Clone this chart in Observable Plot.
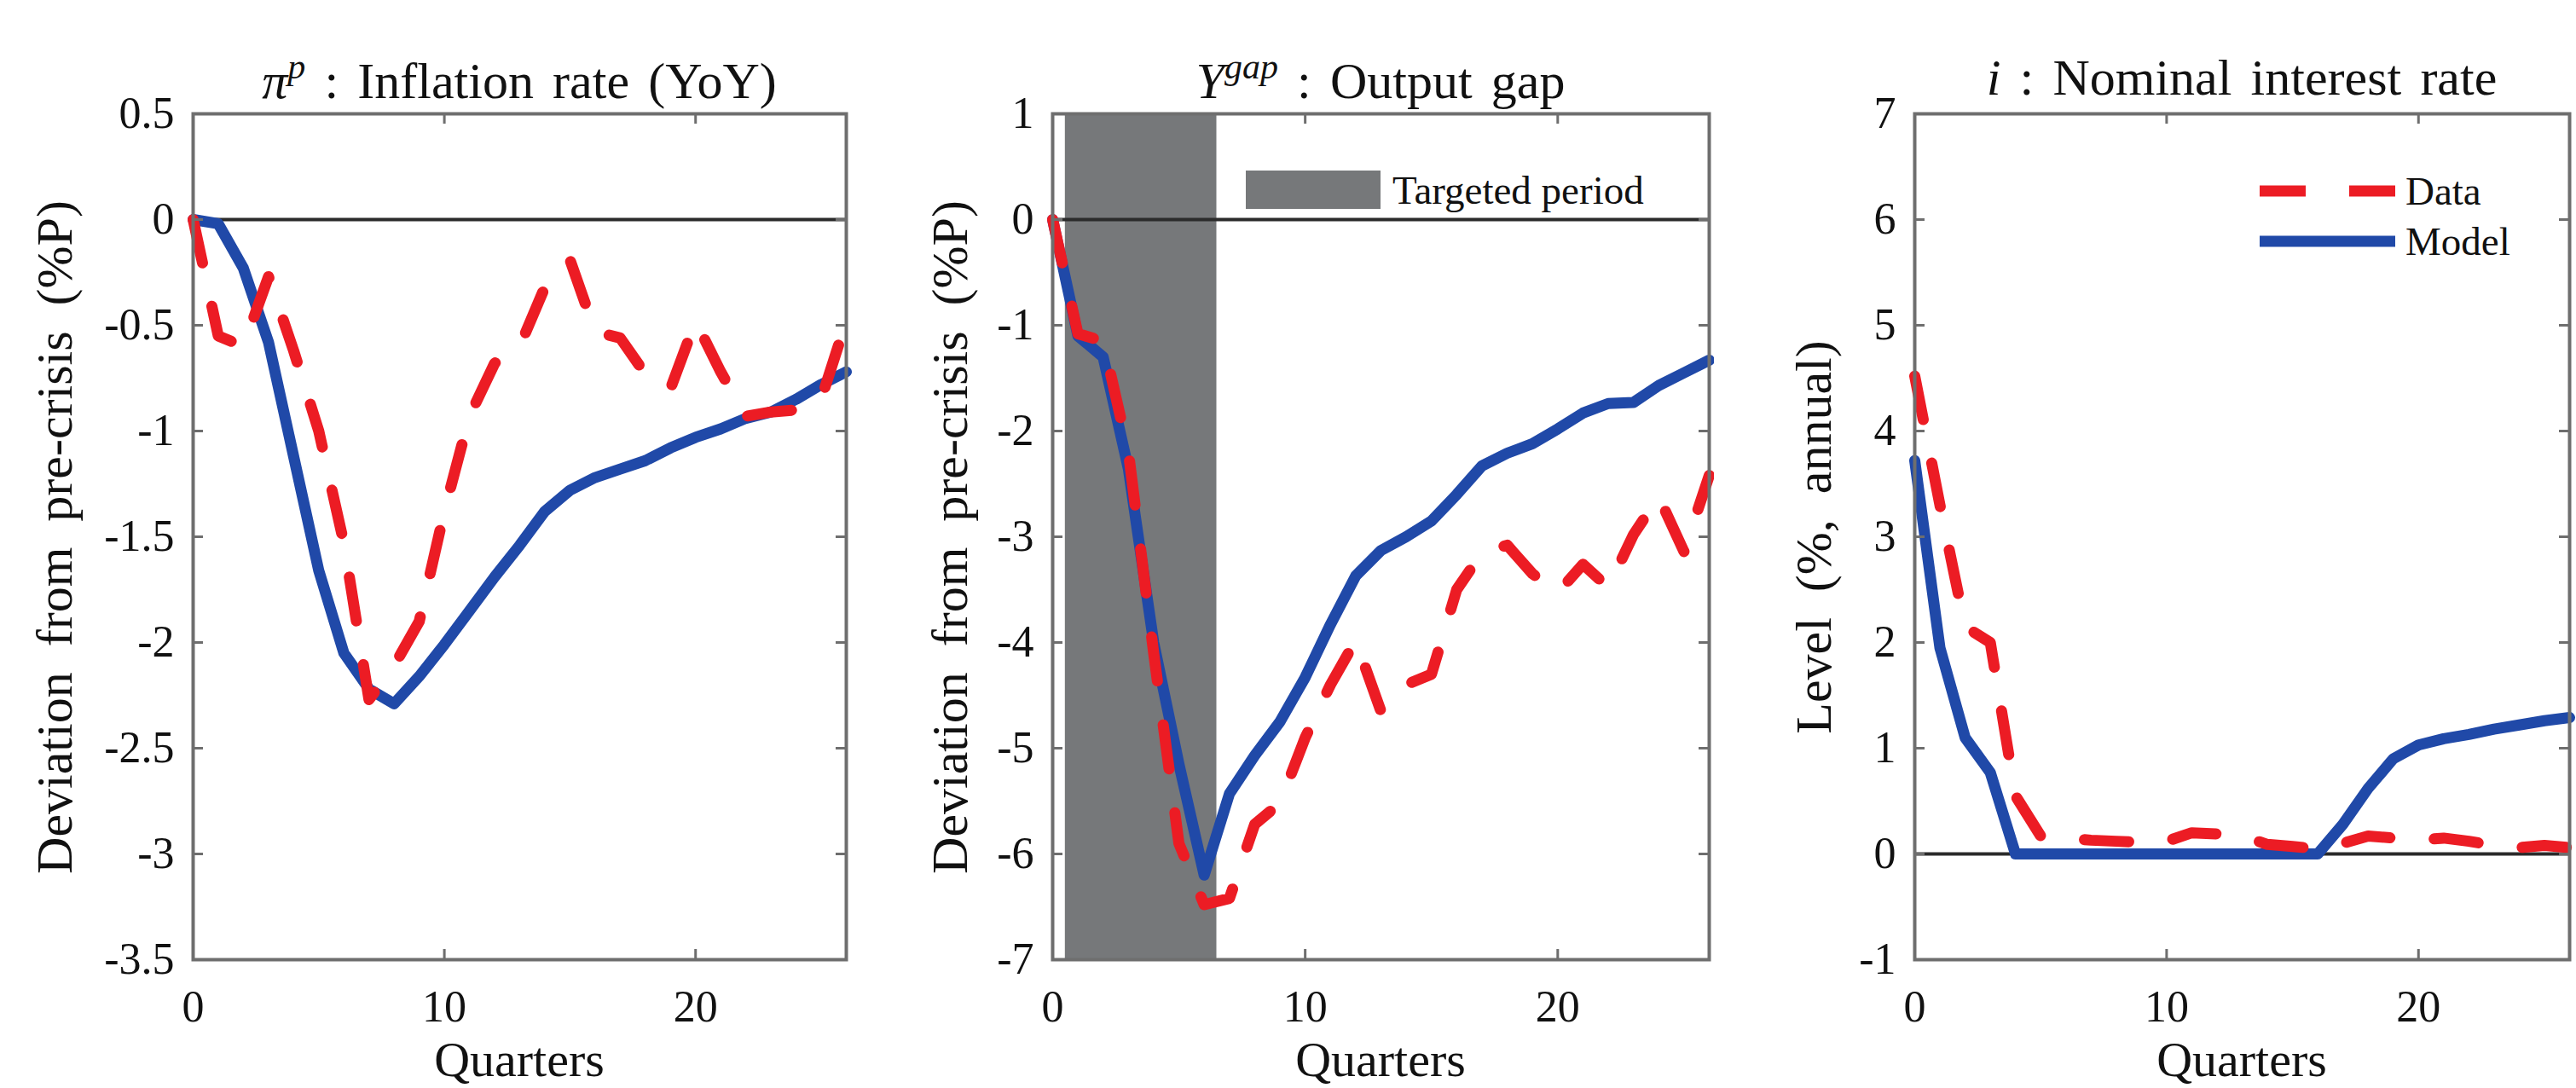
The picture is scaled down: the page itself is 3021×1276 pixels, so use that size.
<!DOCTYPE html>
<html>
<head>
<meta charset="utf-8">
<script src="https://cdn.jsdelivr.net/npm/d3@7"></script>
<script src="https://cdn.jsdelivr.net/npm/@observablehq/plot@0.6"></script>
<style>
  html, body { margin: 0; padding: 0; background: #fff; }
  #chart { position: relative; width: 3021px; height: 1276px; overflow: hidden;
           font-family: "Liberation Serif", "DejaVu Serif", serif; color: #111; }
  #chart div { font-family: "Liberation Serif", "DejaVu Serif", serif; }
  .panel { position: absolute; top: 0; }
  .title { position: absolute; top: 91px; transform: translate(-50%, -50%); font-size: 60px;
           white-space: nowrap; word-spacing: 0.12em; line-height: 1; }
  .sup { font-size: 0.7em; vertical-align: 0.55em; font-style: italic; }
  .ylab { position: absolute; top: 630px; transform: translate(-50%, -50%) rotate(-90deg);
          font-size: 60px; white-space: nowrap; word-spacing: 0.25em; line-height: 1; }
  .xlab { position: absolute; top: 1243px; transform: translate(-50%, -50%); font-size: 58px; line-height: 1; }
  .legtext { position: absolute; transform: translateY(-50%); font-size: 47px; white-space: nowrap; line-height: 1; }
  .legbox { position: absolute; }
  .legline { position: absolute; }
</style>
</head>
<body>
<div id="chart"></div>
<script>
// ---------- data ----------
const quarters = [0, 1, 2, 3, 4, 5, 6, 7, 8, 9, 10, 11, 12, 13, 14, 15, 16, 17, 18, 19, 20, 21, 22, 23, 24, 25, 26];

const inflationData  = [0, -0.55, -0.60, -0.27, -0.62, -1.00, -1.53, -2.27, -2.11, -1.90, -1.38, -0.93, -0.68, -0.60, -0.32, -0.19, -0.53, -0.56, -0.73, -0.80, -0.48, -0.72, -0.93, -0.91, -0.90, -0.85, -0.48];
const inflationModel = [0, -0.02, -0.23, -0.58, -1.12, -1.66, -2.05, -2.22, -2.29, -2.16, -2.01, -1.85, -1.69, -1.54, -1.38, -1.28, -1.22, -1.18, -1.14, -1.08, -1.03, -0.99, -0.94, -0.91, -0.85, -0.78, -0.72];

const gapData  = [0, -1.08, -1.15, -2.20, -4.10, -5.90, -6.48, -6.42, -5.72, -5.52, -4.90, -4.40, -3.98, -4.65, -4.40, -4.30, -3.50, -3.15, -3.08, -3.35, -3.53, -3.26, -3.48, -2.98, -2.62, -3.14, -2.42];
const gapModel = [0, -1.10, -1.30, -2.36, -4.00, -5.15, -6.20, -5.43, -5.07, -4.75, -4.33, -3.83, -3.37, -3.13, -3.00, -2.85, -2.60, -2.33, -2.21, -2.12, -1.98, -1.83, -1.74, -1.73, -1.57, -1.45, -1.33];

const rateData  = [4.52, 3.30, 2.15, 2.00, 0.55, 0.17, 0.15, 0.13, 0.12, 0.11, 0.12, 0.20, 0.19, 0.17, 0.09, 0.07, 0.05, 0.10, 0.17, 0.15, 0.13, 0.15, 0.12, 0.08, 0.06, 0.08, 0.06];
const rateModel = [3.72, 1.95, 1.10, 0.77, 0, 0, 0, 0, 0, 0, 0, 0, 0, 0, 0, 0, 0, 0.28, 0.62, 0.90, 1.03, 1.09, 1.13, 1.18, 1.22, 1.26, 1.29];

const targetedPeriod = [{start: 0.5, end: 6.5}];

const xTicks = [0, 10, 20];
const inflationTicks = [0.5, 0, -0.5, -1, -1.5, -2, -2.5, -3, -3.5];
const gapTicks = [1, 0, -1, -2, -3, -4, -5, -6, -7];
const rateTicks = [7, 6, 5, 4, 3, 2, 1, 0, -1];

const titles = [
  '<i>π</i><span class="sup">p</span> : Inflation rate (YoY)',
  '<i>Y</i><span class="sup">gap</span> : Output gap',
  '<i>i</i> : Nominal interest rate'
];
const yLabels = ["Deviation from pre-crisis (%P)", "Deviation from pre-crisis (%P)", "Level (%, annual)"];
const xLabel = "Quarters";
const seriesNames = ["Data", "Model"];
const shadeLabel = "Targeted period";

// ---------- style ----------
const RED = "#ec1c24";
const BLUE = "#2049a8";
const SHADE = "#76787a";
const FRAME = "#6e6e6e";
const FONT = '"Liberation Serif", "DejaVu Serif", serif';
const H = 1276, MT = 133, MB = 151;

function panel({data, model, yDomain, yTicks, left, width, ml, mr, extra = []}) {
  const rows = quarters.map((q, i) => ({q, data: data[i], model: model[i]}));
  const pw = width - ml - mr, ph = H - MT - MB;
  const fmt = d => String(d);
  const svg = Plot.plot({
    width, height: H, marginTop: MT, marginBottom: MB, marginLeft: ml, marginRight: mr,
    style: {fontFamily: FONT, background: "transparent", color: "#111"},
    x: {domain: [0, 26]},
    y: {domain: yDomain},
    marks: [
      ...extra,
      Plot.ruleY([0], {stroke: "#2b2b2b", strokeWidth: 4}),
      Plot.line(rows, {x: "q", y: "model", stroke: BLUE, strokeWidth: 13, strokeLinejoin: "round"}),
      Plot.line(rows, {x: "q", y: "data", stroke: RED, strokeWidth: 13, strokeDasharray: "52,52", strokeLinejoin: "round"}),
      // inward ticks on all four sides
      Plot.tickY(yTicks, {y: d => d, insetRight: pw - 12, stroke: FRAME, strokeWidth: 3}),
      Plot.tickY(yTicks, {y: d => d, insetLeft: pw - 12, stroke: FRAME, strokeWidth: 3}),
      Plot.tickX(xTicks, {x: d => d, insetTop: ph - 12, stroke: FRAME, strokeWidth: 3}),
      Plot.tickX(xTicks, {x: d => d, insetBottom: ph - 12, stroke: FRAME, strokeWidth: 3}),
      Plot.frame({stroke: FRAME, strokeWidth: 4}),
      Plot.axisY({ticks: yTicks, tickSize: 0, tickPadding: 22, tickFormat: fmt, fontSize: 52, fontFamily: FONT, label: null}),
      Plot.axisX({ticks: xTicks, tickSize: 0, tickPadding: 36, tickFormat: fmt, fontSize: 52, fontFamily: FONT, label: null})
    ]
  });
  svg.classList.add("panel");
  svg.style.left = left + "px";
  return svg;
}

const chart = document.getElementById("chart");

const panels = [
  {data: inflationData, model: inflationModel, yDomain: [-3.5, 0.5], yTicks: inflationTicks, left: 0, width: 1000, ml: 226, mr: 8},
  {data: gapData, model: gapModel, yDomain: [-7, 1], yTicks: gapTicks, left: 1000, width: 1010, ml: 234, mr: 6,
   extra: [Plot.rect(targetedPeriod, {x1: "start", x2: "end", fill: SHADE})]},
  {data: rateData, model: rateModel, yDomain: [-1, 7], yTicks: rateTicks, left: 2010, width: 1011, ml: 235, mr: 8}
];

const yLabelX = [64, 1114, 2127];

panels.forEach((p, i) => {
  chart.appendChild(panel(p));
  const cx = p.left + p.ml + (p.width - p.ml - p.mr) / 2;
  const t = document.createElement("div");
  t.className = "title"; t.style.left = cx + "px"; t.innerHTML = titles[i];
  chart.appendChild(t);
  const yl = document.createElement("div");
  yl.className = "ylab"; yl.style.left = yLabelX[i] + "px"; yl.textContent = yLabels[i];
  chart.appendChild(yl);
  const xl = document.createElement("div");
  xl.className = "xlab"; xl.style.left = cx + "px"; xl.textContent = xLabel;
  chart.appendChild(xl);
});

// legend: targeted period (panel 2)
const box = document.createElement("div");
box.className = "legbox";
Object.assign(box.style, {left: "1461px", top: "200px", width: "158px", height: "45px", background: SHADE});
chart.appendChild(box);
const boxText = document.createElement("div");
boxText.className = "legtext"; boxText.style.left = "1633px"; boxText.style.top = "223px";
boxText.textContent = shadeLabel;
chart.appendChild(boxText);

// legend: data / model (panel 3)
const legendItems = [
  {name: seriesNames[0], color: RED, dash: "54,51", y: 224},
  {name: seriesNames[1], color: BLUE, dash: null, y: 283}
];
legendItems.forEach(it => {
  const s = d3.create("svg").attr("class", "legline").attr("width", 160).attr("height", 20)
    .style("left", "2650px").style("top", (it.y - 10) + "px");
  s.append("line").attr("x1", 0).attr("x2", 159).attr("y1", 10).attr("y2", 10)
    .attr("stroke", it.color).attr("stroke-width", 13)
    .attr("stroke-dasharray", it.dash);
  chart.appendChild(s.node());
  const tx = document.createElement("div");
  tx.className = "legtext"; tx.style.left = "2821px"; tx.style.top = it.y + "px";
  tx.textContent = it.name;
  chart.appendChild(tx);
});
</script>
</body>
</html>
